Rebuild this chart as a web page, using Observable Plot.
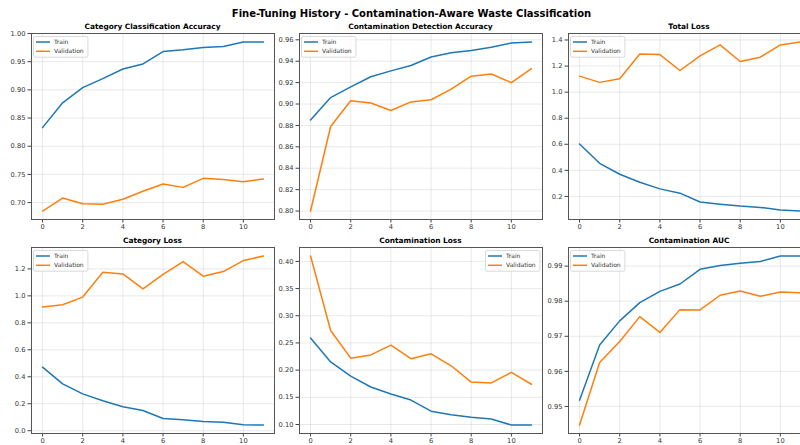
<!DOCTYPE html>
<html><head><meta charset="utf-8">
<script src="https://cdn.jsdelivr.net/npm/d3@7"></script>
<script src="https://cdn.jsdelivr.net/npm/@observablehq/plot@0.6"></script>
<style>
body{margin:0;background:#fff;}
#c{position:relative;width:800px;height:445px;overflow:hidden;background:#fff;font-family:"DejaVu Sans";}
.t{position:absolute;font-weight:bold;color:#000;white-space:nowrap;transform:translate(-50%,-50%);line-height:1;}
</style></head><body><div id="c"></div>
<script>
const mainTitle = "Fine-Tuning History - Contamination-Aware Waste Classification";
const seriesNames = ["Train", "Validation"];
const epochs = [0,1,2,3,4,5,6,7,8,9,10,11];
const xTicks = [0,2,4,6,8,10];

const catAccTrain = [0.833,0.877,0.904,0.920,0.937,0.946,0.968,0.971,0.975,0.977,0.985,0.985];
const catAccVal   = [0.685,0.708,0.698,0.697,0.706,0.720,0.733,0.727,0.743,0.741,0.737,0.742];
const contAccTrain = [0.885,0.906,0.916,0.9255,0.931,0.936,0.944,0.948,0.950,0.953,0.957,0.958];
const contAccVal   = [0.800,0.879,0.903,0.901,0.894,0.902,0.904,0.914,0.926,0.928,0.920,0.933];
const totalLossTrain = [0.602,0.454,0.370,0.309,0.258,0.225,0.157,0.141,0.126,0.116,0.096,0.088];
const totalLossVal   = [1.123,1.075,1.103,1.293,1.288,1.166,1.278,1.362,1.235,1.268,1.362,1.385];
const catLossTrain = [0.471,0.347,0.273,0.222,0.177,0.150,0.091,0.081,0.069,0.062,0.044,0.042];
const catLossVal   = [0.917,0.934,0.991,1.175,1.163,1.052,1.160,1.254,1.146,1.180,1.262,1.296];
const contLossTrain = [0.259,0.215,0.189,0.169,0.156,0.145,0.1245,0.118,0.1135,0.110,0.099,0.099];
const contLossVal   = [0.410,0.273,0.222,0.228,0.246,0.221,0.230,0.208,0.178,0.1765,0.196,0.174];
const aucTrain = [0.9518,0.9675,0.9744,0.9796,0.9828,0.9849,0.9891,0.9902,0.9908,0.9913,0.9929,0.9929];
const aucVal   = [0.9447,0.9625,0.9685,0.9756,0.9711,0.9776,0.9775,0.9817,0.9829,0.9814,0.9826,0.9824];

const panels = [
  {title:"Category Classification Accuracy", train:catAccTrain, val:catAccVal, ticks:[0.70,0.75,0.80,0.85,0.90,0.95,1.00], fmt:".2f", col:0, row:0, legend:"left"},
  {title:"Contamination Detection Accuracy", train:contAccTrain, val:contAccVal, ticks:[0.80,0.82,0.84,0.86,0.88,0.90,0.92,0.94,0.96], fmt:".2f", col:1, row:0, legend:"left"},
  {title:"Total Loss", train:totalLossTrain, val:totalLossVal, ticks:[0.2,0.4,0.6,0.8,1.0,1.2,1.4], fmt:".1f", col:2, row:0, legend:"left"},
  {title:"Category Loss", train:catLossTrain, val:catLossVal, ticks:[0.0,0.2,0.4,0.6,0.8,1.0,1.2], fmt:".1f", col:0, row:1, legend:"left"},
  {title:"Contamination Loss", train:contLossTrain, val:contLossVal, ticks:[0.10,0.15,0.20,0.25,0.30,0.35,0.40], fmt:".2f", col:1, row:1, legend:"right"},
  {title:"Contamination AUC", train:aucTrain, val:aucVal, ticks:[0.95,0.96,0.97,0.98,0.99], fmt:".2f", col:2, row:1, legend:"left"}
];

const colors = ["#1f77b4", "#ff7f0e"];
const cols = [31, 299, 567.5], rows = [33, 247.3], FW = 243, FH = 186;
const mL = 34, mT = 6, mR = 6, mB = 16;
const c = document.getElementById("c");

const t = document.createElement("div");
t.className = "t"; t.textContent = mainTitle;
t.style.left = "411.5px"; t.style.top = "14px"; t.style.fontSize = "10px";
c.appendChild(t);

panels.forEach(p => {
  const L = cols[p.col], T = rows[p.row];
  const data = epochs.flatMap((e, i) => [
    {epoch: e, value: p.train[i], series: seriesNames[0]},
    {epoch: e, value: p.val[i], series: seriesNames[1]}
  ]);
  const all = [...p.train, ...p.val];
  const mn = d3.min(all), mx = d3.max(all), pad = (mx - mn) * 0.05;
  const svg = Plot.plot({
    width: FW + mL + mR, height: FH + mT + mB,
    marginLeft: mL, marginRight: mR, marginTop: mT, marginBottom: mB,
    style: {fontFamily: "DejaVu Sans", fontSize: "6.7px", color: "#333", background: "transparent", overflow: "visible"},
    x: {domain: [-0.55, 11.55]},
    y: {domain: [mn - pad, mx + pad]},
    color: {domain: seriesNames, range: colors},
    marks: [
      Plot.gridX({ticks: xTicks, stroke: "#b0b0b0", strokeOpacity: 0.35, strokeWidth: 0.8}),
      Plot.gridY({ticks: p.ticks, stroke: "#b0b0b0", strokeOpacity: 0.35, strokeWidth: 0.8}),
      Plot.axisX({ticks: xTicks, tickSize: 3.5, tickPadding: 1.5, tickFormat: d => String(d), label: null, stroke: "#444", fill: "#333"}),
      Plot.axisY({ticks: p.ticks, tickSize: 3.5, tickPadding: 2.5, tickFormat: d3.format(p.fmt), label: null, stroke: "#444", fill: "#333"}),
      Plot.line(data, {x: "epoch", y: "value", stroke: "series", strokeWidth: 1.5}),
      Plot.frame({stroke: "#555", strokeWidth: 1})
    ]
  });
  svg.style.position = "absolute";
  svg.style.left = (L - mL) + "px";
  svg.style.top = (T - mT) + "px";
  c.appendChild(svg);

  const pt = document.createElement("div");
  pt.className = "t"; pt.textContent = p.title;
  pt.style.left = (L + FW / 2) + "px"; pt.style.top = (T - 6.5) + "px"; pt.style.fontSize = "7.4px";
  c.appendChild(pt);

  // legend
  const lw = 54.4, lh = 20.7;
  const lx = p.legend === "left" ? L + 2.3 : L + FW - 2.5 - lw;
  const ly = T + 3;
  const lg = d3.select(c).append("svg")
    .style("position", "absolute").style("left", lx + "px").style("top", ly + "px")
    .attr("width", lw + 2).attr("height", lh + 2);
  lg.append("rect").attr("x", 0.5).attr("y", 0.5).attr("width", lw).attr("height", lh)
    .attr("rx", 1.5).attr("fill", "#fff").attr("fill-opacity", 0.8).attr("stroke", "#d0d0d0").attr("stroke-width", 0.8);
  seriesNames.forEach((s, i) => {
    const y = 6 + i * 9.3;
    lg.append("line").attr("x1", 3).attr("x2", 17).attr("y1", y).attr("y2", y)
      .attr("stroke", colors[i]).attr("stroke-width", 1.5);
    lg.append("text").attr("x", 21).attr("y", y).attr("dy", "0.35em")
      .attr("font-family", "DejaVu Sans").attr("font-size", "6px").attr("fill", "#333").text(s);
  });
});
</script>
</body></html>
